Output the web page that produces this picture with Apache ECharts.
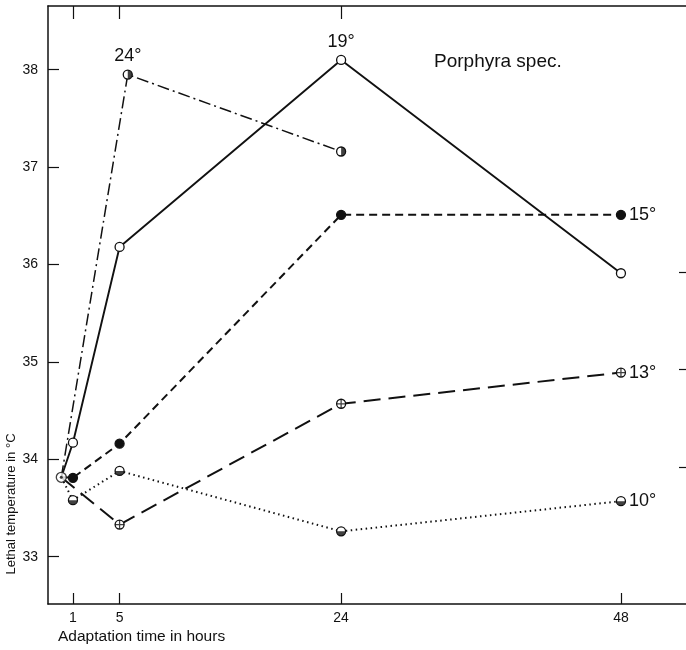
<!DOCTYPE html>
<html>
<head>
<meta charset="utf-8">
<script src="https://cdn.jsdelivr.net/npm/echarts@6/dist/echarts.min.js"></script>
<style>
html,body{margin:0;padding:0;background:#fff;}
#chart{width:686px;height:650px;}
</style>
</head>
<body>
<div id="chart"></div>
<script>
// ---- data ----
const seriesNames = ['24°', '19°', '15°', '13°', '10°'];
const hours24 = [0, 5.7, 24];
const temps24 = [33.815, 37.95, 37.16];
const hours19 = [0, 1, 5, 24, 48];
const temps19 = [33.815, 34.17, 36.18, 38.10, 35.91];
const hours15 = [0, 1, 5, 24, 48];
const temps15 = [33.815, 33.81, 34.16, 36.51, 36.51];
const hours13 = [0, 5, 24, 48];
const temps13 = [33.815, 33.33, 34.57, 34.89];
const hours10 = [0, 1, 5, 24, 48];
const temps10 = [33.815, 33.58, 33.88, 33.26, 33.57];
const xTickValues = [1, 5, 24, 48];
const xTopTickValues = [1, 5, 24];
const yTickValues = [33, 34, 35, 36, 37, 38];
const yRightTickValues = [34, 35, 36];
const titleText = 'Porphyra spec.';
const xTitle = 'Adaptation time in hours';
const yTitle = 'Lethal temperature in °C';

const FONT = 'Liberation Sans';
const INK = '#111';

function pts(h, t) { return h.map((x, i) => [x, t[i]]); }

// which point carries the series name, and where
const labelIdx = [1, 3, 4, 3, 4];
const labelPos = ['top', 'top', 'right', 'right', 'right'];

function lineData(h, t, k) {
  return pts(h, t).map((p, i) => {
    const d = { value: p };
    if (i === 0) d.symbol = 'none';
    if (i === labelIdx[k]) {
      d.label = {
        show: true, position: labelPos[k], formatter: seriesNames[k],
        distance: labelPos[k] === 'top' ? 4 : 3,
        fontSize: 18, color: INK, fontFamily: FONT
      };
    }
    return d;
  });
}

function lineSeries(h, t, k, dash, width, fill) {
  return {
    type: 'line', name: seriesNames[k], data: lineData(h, t, k),
    symbol: 'circle', symbolSize: 9, showAllSymbol: true,
    lineStyle: { color: INK, width: width, type: dash },
    itemStyle: { color: fill, borderColor: INK, borderWidth: 1.3 },
    emphasis: { disabled: true }, animation: false, z: 3
  };
}

const halfRight = 'path://M0,-10 A10,10 0 0,1 0,10 Z';
const halfBottom = 'path://M-10,0 A10,10 0 0,0 10,0 Z';
const cross = 'path://M-0.7,-5 L0.7,-5 L0.7,5 L-0.7,5 Z M-5,-0.7 L5,-0.7 L5,0.7 L-5,0.7 Z';

function overlay(h, t, symbol, size, offset) {
  return {
    type: 'scatter', data: pts(h, t).slice(1), symbol: symbol,
    symbolSize: size, symbolOffset: offset,
    itemStyle: { color: INK }, emphasis: { disabled: true },
    animation: false, z: 4, silent: true
  };
}

const chart = echarts.init(document.getElementById('chart'));
const xMin = -1.14, xMax = 53.58;
const yMin = 32.514, yMax = 38.654;
const shift = 0.079;

chart.setOption({
  backgroundColor: '#fff',
  animation: false,
  title: {
    text: titleText, left: 434, top: 52, padding: 0,
    textStyle: { fontSize: 19, fontWeight: 'normal', color: INK, fontFamily: FONT }
  },
  grid: { left: 48, right: 0, top: 6, bottom: 46, containLabel: false },
  xAxis: [
    {
      type: 'value', position: 'bottom', min: xMin, max: xMax,
      axisLine: { show: true, onZero: false, lineStyle: { color: INK, width: 1.5 } },
      axisTick: { show: true, inside: true, length: 11, customValues: xTickValues, lineStyle: { color: INK, width: 1.2 } },
      axisLabel: { show: true, customValues: xTickValues, margin: 7, fontSize: 14, color: INK, fontFamily: FONT },
      splitLine: { show: false }
    },
    {
      type: 'value', position: 'top', min: xMin, max: xMax,
      axisLine: { show: true, onZero: false, lineStyle: { color: INK, width: 1.5 } },
      axisTick: { show: true, inside: true, length: 13, customValues: xTopTickValues, lineStyle: { color: INK, width: 1.2 } },
      axisLabel: { show: false },
      splitLine: { show: false }
    }
  ],
  yAxis: [
    {
      type: 'value', position: 'left', min: yMin, max: yMax,
      axisLine: { show: true, onZero: false, lineStyle: { color: INK, width: 1.5 } },
      axisTick: { show: true, inside: true, length: 11, customValues: yTickValues, lineStyle: { color: INK, width: 1.2 } },
      axisLabel: { show: true, customValues: yTickValues, margin: 10, fontSize: 14, color: INK, fontFamily: FONT },
      splitLine: { show: false }
    },
    {
      type: 'value', position: 'right', min: yMin + shift, max: yMax + shift,
      axisLine: { show: false, onZero: false },
      axisTick: { show: true, inside: true, length: 7, customValues: yRightTickValues, lineStyle: { color: INK, width: 1.2 } },
      axisLabel: { show: false },
      splitLine: { show: false }
    }
  ],
  graphic: [
    {
      type: 'text', x: 11, y: 504, rotation: Math.PI / 2,
      style: { text: yTitle, fontSize: 13, fill: INK, fontFamily: FONT, align: 'center', verticalAlign: 'middle' }
    },
    {
      type: 'text', x: 58, y: 637,
      style: { text: xTitle, fontSize: 15.5, fill: INK, fontFamily: FONT, align: 'left', verticalAlign: 'middle' }
    }
  ],
  series: [
    lineSeries(hours24, temps24, 0, [12, 4, 2, 4], 1.5, '#fff'),
    lineSeries(hours19, temps19, 1, 'solid', 1.9, '#fff'),
    lineSeries(hours15, temps15, 2, [8, 5], 2, INK),
    lineSeries(hours13, temps13, 3, [17, 8], 2, '#fff'),
    lineSeries(hours10, temps10, 4, [1.5, 3.5], 2, '#fff'),
    overlay(hours24, temps24, halfRight, [4.5, 9], [2.25, 0]),
    overlay(hours13, temps13, cross, 9, [0, 0]),
    overlay(hours10, temps10, halfBottom, [9, 4.5], [0, 2.25]),
    {
      type: 'scatter', data: [pts(hours19, temps19)[0]], symbol: 'circle', symbolSize: 10,
      itemStyle: { color: '#fff', borderColor: INK, borderWidth: 1.3 },
      emphasis: { disabled: true }, animation: false, z: 5, silent: true
    },
    {
      type: 'scatter', data: [pts(hours19, temps19)[0]], symbol: 'circle', symbolSize: 3,
      itemStyle: { color: INK }, emphasis: { disabled: true }, animation: false, z: 6, silent: true
    }
  ]
});
</script>
</body>
</html>
